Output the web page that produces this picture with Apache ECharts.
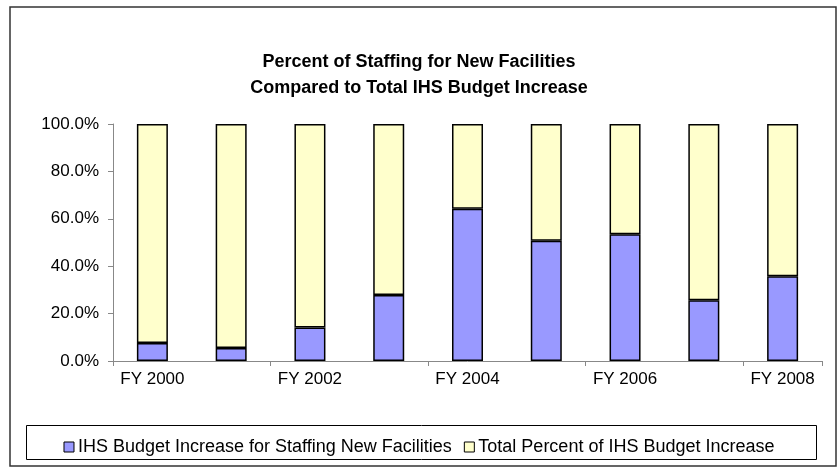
<!DOCTYPE html>
<html>
<head>
<meta charset="utf-8">
<script src="https://cdn.jsdelivr.net/npm/echarts@6/dist/echarts.min.js"></script>
<style>
html,body{margin:0;padding:0;background:#fff;}
#chart{width:838px;height:468px;}
</style>
</head>
<body>
<div id="chart"></div>
<script>
const categories = ['FY 2000','FY 2001','FY 2002','FY 2003','FY 2004','FY 2005','FY 2006','FY 2007','FY 2008'];
const staffingNewFacilities = [7.6, 5.5, 14.1, 27.8, 64.2, 50.7, 53.5, 25.6, 35.8];
const totalPercentRemainder = [92.4, 94.5, 85.9, 72.2, 35.8, 49.3, 46.5, 74.4, 64.2];
const seriesNames = ['IHS Budget Increase for Staffing New Facilities', 'Total Percent of IHS Budget Increase'];
const titleLines = ['Percent of Staffing for New Facilities', 'Compared to Total IHS Budget Increase'];

const FONT = 'Arial, "Liberation Sans", sans-serif';
const chart = echarts.init(document.getElementById('chart'), null, {renderer: 'canvas'});
chart.setOption({
  animation: false,
  backgroundColor: '#fff',
  textStyle: {fontFamily: FONT},
  graphic: [
    {type: 'rect', shape: {x: 10, y: 7, width: 826, height: 459}, style: {fill: 'none', stroke: '#333', lineWidth: 1.5}, z: -1},
    {type: 'rect', shape: {x: 26.5, y: 425.5, width: 790, height: 34}, style: {fill: 'none', stroke: '#000', lineWidth: 1}, z: -1}
  ],
  title: {
    text: titleLines.join('\n'),
    left: 'center',
    top: 44,
    textStyle: {fontFamily: FONT, fontSize: 18, fontWeight: 'bold', color: '#000', lineHeight: 26}
  },
  legend: {
    data: seriesNames,
    left: 'center',
    top: 433,
    itemWidth: 10,
    itemHeight: 10,
    itemGap: 12,
    icon: 'rect',
    textStyle: {fontFamily: FONT, fontSize: 18, color: '#000', padding: [0, 0, 0, -1]},
    itemStyle: {borderColor: '#000', borderWidth: 1}
  },
  grid: {left: 113, right: 16, top: 124, bottom: 107},
  xAxis: {
    type: 'category',
    data: categories,
    boundaryGap: true,
    axisLine: {lineStyle: {color: '#888', width: 1}},
    axisTick: {show: true, length: 5, lineStyle: {color: '#888'}},
    axisLabel: {interval: 1, color: '#000', fontSize: 17, margin: 10, fontFamily: FONT}
  },
  yAxis: {
    type: 'value',
    min: 0, max: 100, interval: 20,
    splitLine: {show: false},
    axisLine: {show: true, lineStyle: {color: '#888', width: 1}},
    axisTick: {show: true, length: 5, lineStyle: {color: '#888'}},
    axisLabel: {color: '#000', fontSize: 17, margin: 14, fontFamily: FONT,
      formatter: v => v.toFixed(1) + '%'}
  },
  series: [
    {name: seriesNames[0], type: 'bar', stack: 'a', barWidth: 31, data: staffingNewFacilities,
     itemStyle: {color: '#9999FF', borderColor: '#000', borderWidth: 1.5}},
    {name: seriesNames[1], type: 'bar', stack: 'a', barWidth: 31, data: totalPercentRemainder,
     itemStyle: {color: '#FFFFCC', borderColor: '#000', borderWidth: 1.5}}
  ]
});
</script>
</body>
</html>
